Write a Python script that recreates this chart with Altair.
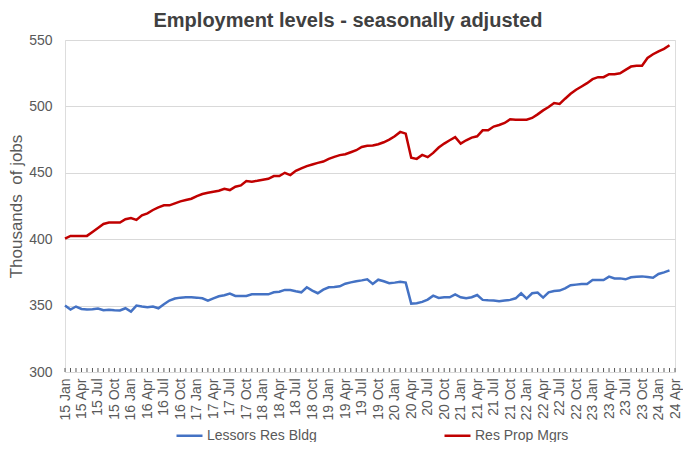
import altair as alt
import pandas as pd

# Monthly, Jan 2015 .. Mar 2024 (category axis runs to Apr 2024)
tick_labels = [
    "15 Jan", "15 Apr", "15 Jul", "15 Oct",
    "16 Jan", "16 Apr", "16 Jul", "16 Oct",
    "17 Jan", "17 Apr", "17 Jul", "17 Oct",
    "18 Jan", "18 Apr", "18 Jul", "18 Oct",
    "19 Jan", "19 Apr", "19 Jul", "19 Oct",
    "20 Jan", "20 Apr", "20 Jul", "20 Oct",
    "21 Jan", "21 Apr", "21 Jul", "21 Oct",
    "22 Jan", "22 Apr", "22 Jul", "22 Oct",
    "23 Jan", "23 Apr", "23 Jul", "23 Oct",
    "24 Jan", "24 Apr",
]

res_prop_mgrs = [
    400.5, 402.5, 402.5, 402.5, 402.5, 405.5, 408.5, 411.5, 412.5, 412.5, 412.5, 415.0,
    416.0, 414.5, 418.0, 419.5, 422.0, 424.0, 425.5, 425.5, 427.0, 428.5, 429.5, 430.5,
    432.5, 434.0, 435.0, 435.8, 436.5, 438.0, 437.0, 439.5, 440.5, 443.8, 443.3, 444.0,
    444.8, 445.5, 447.5, 447.5, 450.0, 448.3, 451.5, 453.3, 455.0, 456.3, 457.5, 458.5,
    460.5, 462.0, 463.3, 464.0, 465.5, 467.0, 469.5, 470.3, 470.5, 471.5, 473.0, 475.0,
    477.5, 480.8, 479.5, 461.3, 460.5, 463.5, 461.8, 465.0, 469.0, 472.0, 474.5, 476.8,
    472.0, 474.5, 476.5, 477.5, 482.0, 482.0, 484.8, 486.0, 487.5, 490.3, 490.0, 490.0,
    490.0, 491.3, 494.0, 497.0, 499.5, 502.5, 501.8, 505.8, 509.5, 512.5, 515.0, 517.5,
    520.5, 522.0, 522.0, 524.3, 524.3, 525.0, 527.5, 530.0, 530.6, 530.6, 536.5, 539.3,
    541.5, 543.3, 546.0,
]

lessors_res_bldg = [
    350.0, 347.0, 349.3, 347.5, 347.0, 347.3, 347.8, 346.5, 346.8, 346.5, 346.3, 348.0,
    345.5, 350.0, 349.3, 348.8, 349.3, 348.0, 351.0, 353.8, 355.3, 356.0, 356.3, 356.3,
    356.0, 355.5, 353.8, 355.5, 357.0, 357.8, 359.0, 357.3, 357.3, 357.3, 358.5, 358.5,
    358.5, 358.5, 360.0, 360.5, 361.8, 361.8, 360.8, 360.0, 363.8, 361.3, 359.3, 362.0,
    363.8, 364.0, 364.5, 366.5, 367.5, 368.3, 369.0, 369.8, 366.3, 369.5, 368.3, 366.8,
    367.3, 368.0, 367.3, 351.5, 351.8, 352.8, 354.5, 357.5, 355.8, 356.3, 356.3, 358.5,
    356.3, 355.5, 356.3, 358.0, 354.3, 354.0, 353.8, 353.3, 353.8, 354.3, 355.5, 359.3,
    355.3, 359.3, 359.8, 356.0, 360.0, 361.0, 361.3, 363.0, 365.3, 365.8, 366.3, 366.3,
    369.3, 369.3, 369.3, 371.8, 370.5, 370.5, 369.8, 371.3, 371.8, 372.0, 371.5, 371.0,
    373.8, 375.0, 376.5,
]

series_names = ["Lessors Res Bldg", "Res Prop Mgrs"]
series_colors = ["#4472C4", "#C00000"]

n_categories = len(tick_labels) * 3 - 2  # Jan 2015 .. Apr 2024

rows = []
for i, v in enumerate(lessors_res_bldg):
    rows.append({"m": i, "value": v, "series": series_names[0]})
for i, v in enumerate(res_prop_mgrs):
    rows.append({"m": i, "value": v, "series": series_names[1]})
df = pd.DataFrame(rows)

ticks_df = pd.DataFrame({"m": list(range(n_categories))})

W, H = 610, 332
label_array = "[" + ",".join("'" + t + "'" for t in tick_labels) + "]"
font = "Liberation Sans"
text_col = "#595959"

x_scale = alt.Scale(domain=[0, n_categories - 1], nice=False, zero=False)
y_scale = alt.Scale(domain=[300, 550], nice=False, zero=False)

x_axis = alt.Axis(
    values=list(range(0, n_categories, 3)),
    labelExpr=label_array + "[round(datum.value/3)]",
    labelAngle=-90,
    labelFontSize=14,
    labelColor=text_col,
    labelFont=font,
    labelPadding=6,
    ticks=False,
    domain=False,
    grid=False,
    title=None,
    labelOverlap=False,
    labelFlush=False,
)

lines = alt.Chart(df).mark_line(strokeWidth=2.5).encode(
    x=alt.X("m:Q", scale=x_scale, axis=x_axis),
    y=alt.Y(
        "value:Q",
        scale=y_scale,
        axis=alt.Axis(
            values=[300, 350, 400, 450, 500, 550],
            labelFontSize=14,
            labelColor=text_col,
            labelFont=font,
            labelPadding=13,
            ticks=False,
            domain=False,
            grid=True,
            gridColor="#d9d9d9",
            gridWidth=1,
            title="Thousands\u00a0 of jobs",
            titleFontSize=17,
            titleFontWeight="normal",
            titleColor=text_col,
            titleFont=font,
            titlePadding=3,
        ),
    ),
    color=alt.Color(
        "series:N",
        scale=alt.Scale(domain=series_names, range=series_colors),
        legend=alt.Legend(
            title=None,
            orient="none",
            direction="horizontal",
            legendX=110,
            legendY=381,
            symbolType="stroke",
            symbolSize=676,
            symbolStrokeWidth=2.5,
            labelFontSize=14,
            labelColor=text_col,
            labelFont=font,
            labelOffset=3,
            columnPadding=122,
        ),
    ),
)

ticks = alt.Chart(ticks_df).mark_rule(color="#595959", strokeWidth=1).encode(
    x=alt.X("m:Q", scale=x_scale, axis=x_axis),
    y=alt.value(H),
    y2=alt.value(H - 4),
)

chart = (
    alt.layer(lines, ticks)
    .properties(
        width=W,
        height=H,
        autosize=alt.AutoSizeParams(type="none"),
        padding={"left": 57, "top": 32, "right": 8, "bottom": 70},
        title=alt.TitleParams(
            "Employment levels - seasonally adjusted",
            fontSize=20,
            fontWeight="bold",
            color="#404040",
            font=font,
            anchor="middle",
            dx=-22,
            offset=2,
        ),
    )
    .configure_view(fill="#f7f7f7", stroke="#404040", strokeWidth=1)
    .configure(background="white")
)

chart.save("out.html", embed_options={"renderer": "svg", "actions": False})
